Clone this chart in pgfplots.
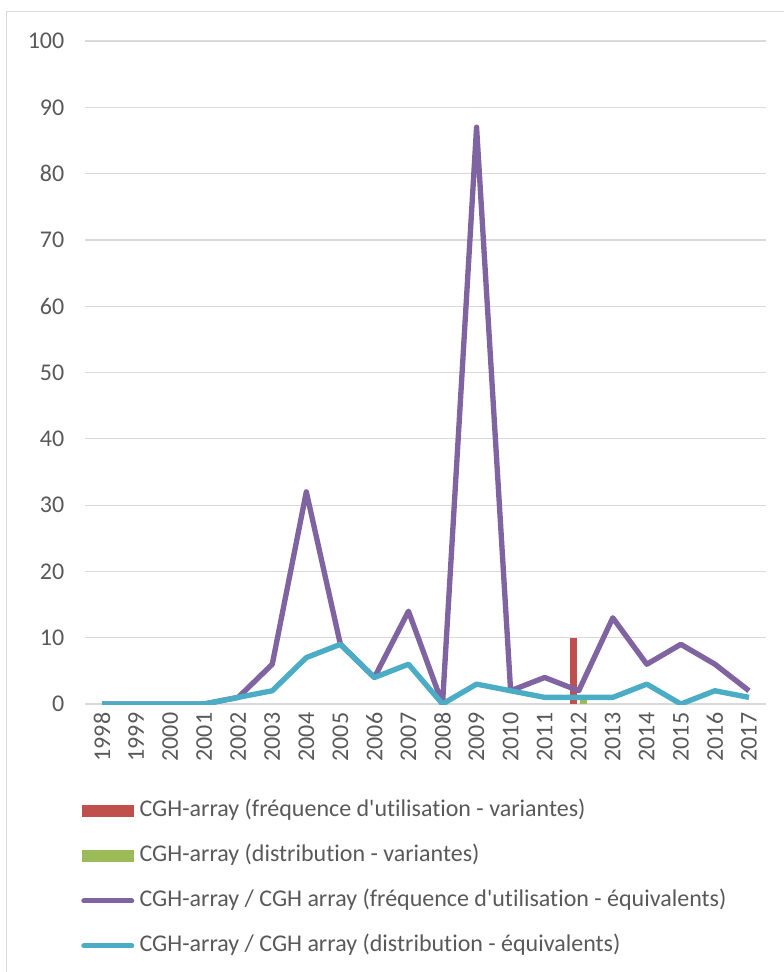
\documentclass[border=0pt]{standalone}
\usepackage{pgfplots}
\pgfplotsset{compat=1.18}
\usepackage{fontspec}
\setmainfont{Carlito}[Ligatures={NoCommon}]
\definecolor{txt}{HTML}{595959}
\definecolor{gridc}{HTML}{D9D9D9}
\definecolor{cRed}{HTML}{C0504D}
\definecolor{cGreen}{HTML}{9BBB59}
\definecolor{cPurple}{HTML}{8064A2}
\definecolor{cCyan}{HTML}{4BACC6}

\begin{document}
\begin{tikzpicture}
\useasboundingbox (0,0) rectangle (588pt,-729pt);
\draw[gridc, line width=0.75pt] (4.5pt,-8.25pt) rectangle (620pt,-760pt);
\begin{axis}[
  at={(63.75pt,-528pt)}, anchor=south west,
  scale only axis, width=510.75pt, height=497.25pt,
  xmin=1997.5, xmax=2017.5, ymin=0, ymax=100,
  xtick={1998,...,2017}, ytick={0,10,...,100},
  major tick length=0pt,
  axis line style={draw=none},
  ymajorgrids, major grid style={gridc, line width=0.9pt},
  font=\fontsize{18}{21}\selectfont, text=txt,
  /pgf/number format/assume math mode=true,
  /pgf/number format/1000 sep={},
  x tick label style={rotate=90, anchor=east, xshift=-3pt},
  y tick label style={anchor=east, xshift=-12pt},
  legend style={at={(0,0)}, anchor=north west, xshift=-6pt, yshift=-70pt,
    draw=none, fill=none, font=\fontsize{18}{21}\selectfont, text=txt,
    nodes={inner sep=0pt, text height=12pt, text depth=4pt},
    row sep=17.75pt, column sep=4pt},
  legend cell align=left,
  line join=round,
]
\addplot[ybar, bar width=5.25pt, bar shift=-3.75pt, fill=cRed, draw=none,
  legend image code/.code={\fill[cRed] (0pt,-4.5pt) rectangle (39pt,4.5pt);}]
  coordinates {(2012,10)};
\addlegendentry{CGH-array (fréquence d\textquotesingle utilisation - variantes)}
\addplot[ybar, bar width=5.25pt, bar shift=3.75pt, fill=cGreen, draw=none,
  legend image code/.code={\fill[cGreen] (0pt,-4.5pt) rectangle (39pt,4.5pt);}]
  coordinates {(2012,1)};
\addlegendentry{CGH-array (distribution - variantes)}
\addplot[cPurple, line width=4pt, mark=none,
  legend image code/.code={\draw[cPurple, line width=3.75pt, line cap=round] (1.5pt,0pt) -- (37.5pt,0pt);}]
  coordinates {(1998,0) (1999,0) (2000,0) (2001,0) (2002,1) (2003,6) (2004,32)
  (2005,9) (2006,4) (2007,14) (2008,0) (2009,87) (2010,2) (2011,4) (2012,2)
  (2013,13) (2014,6) (2015,9) (2016,6) (2017,2)};
\addlegendentry{CGH-array / CGH array (fréquence d\textquotesingle utilisation - équivalents)}
\addplot[cCyan, line width=4pt, mark=none,
  legend image code/.code={\draw[cCyan, line width=3.75pt, line cap=round] (1.5pt,0pt) -- (37.5pt,0pt);}]
  coordinates {(1998,0) (1999,0) (2000,0) (2001,0) (2002,1) (2003,2) (2004,7)
  (2005,9) (2006,4) (2007,6) (2008,0) (2009,3) (2010,2) (2011,1) (2012,1)
  (2013,1) (2014,3) (2015,0) (2016,2) (2017,1)};
\addlegendentry{CGH-array / CGH array (distribution - équivalents)}
\end{axis}
\end{tikzpicture}
\end{document}
